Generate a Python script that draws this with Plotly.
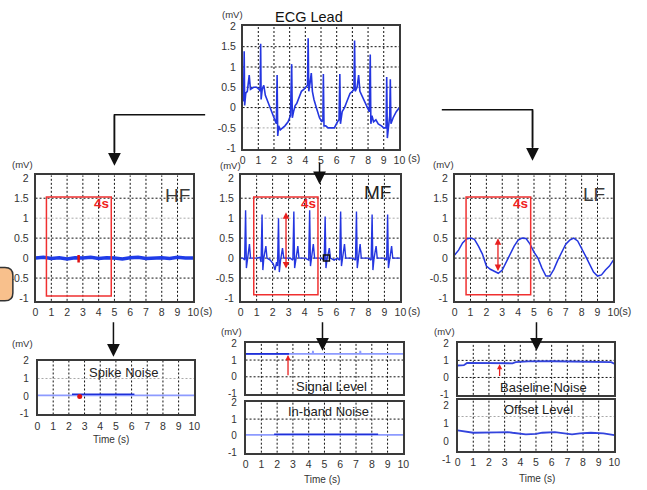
import plotly.graph_objects as go

W, H = 647, 490
FONT = "Arial, Liberation Sans, Helvetica, sans-serif"

# ---------------- data ----------------
# ECG lead (top panel)
ecg_t = [0.00,0.06,0.10,0.13,0.20,0.30,0.42,0.50,0.70,0.90,
         1.05,1.12,1.15,1.18,1.25,1.35,1.45,1.55,1.70,1.90,
         2.05,2.15,2.20,2.24,2.30,2.40,2.55,2.70,2.90,3.05,
         3.13,3.17,3.25,3.35,3.45,3.60,3.75,3.90,4.05,4.14,
         4.18,4.22,4.30,4.38,4.45,4.55,4.70,4.90,5.05,5.12,
         5.15,5.19,5.30,5.45,5.65,5.85,6.05,6.15,6.20,6.24,
         6.35,6.50,6.65,6.85,7.00,7.10,7.14,7.18,7.30,7.40,
         7.48,7.60,7.75,7.95,8.08,8.14,8.18,8.25,8.35,8.50,
         8.65,8.85,9.00,9.15,9.19,9.23,9.30,9.38,9.42,9.46,
         9.60,9.80,10.00]
ecg_v = [0.15,0.20,1.39,0.05,0.35,0.40,0.80,0.45,0.50,0.50,
         0.45,0.40,1.57,0.20,0.45,0.55,0.30,0.20,0.05,-0.15,
         -0.30,-0.40,0.80,-0.70,-0.45,-0.55,-0.50,-0.45,-0.35,-0.20,
         1.07,-0.25,-0.10,0.05,0.10,0.25,0.40,0.45,0.50,0.55,
         1.71,0.40,0.60,0.85,0.40,0.20,0.00,-0.25,-0.35,-0.30,
         0.83,-0.45,-0.45,-0.50,-0.50,-0.50,-0.35,-0.30,0.83,-0.40,
         -0.10,0.00,0.15,0.35,0.40,0.45,1.65,0.40,0.50,0.80,
         0.40,0.30,0.15,0.00,-0.10,1.31,-0.40,-0.20,-0.35,-0.30,
         -0.40,-0.45,-0.50,-0.50,0.75,-0.75,-0.45,-0.20,0.70,-0.40,
         -0.25,-0.10,0.00]

# HF component
hf_t = [0.0,0.5,1.0,1.5,2.0,2.5,3.0,3.5,4.0,4.5,5.0,5.5,6.0,6.5,7.0,7.5,8.0,8.5,9.0,9.5,10.0]
hf_v = [0.00,0.02,-0.01,0.01,-0.02,0.01,0.00,0.02,-0.01,0.01,0.00,-0.02,0.01,0.02,-0.01,0.00,0.01,-0.01,0.02,0.00,0.00]
hf_mark_t = [2.73, 2.73]
hf_mark_v = [-0.11, 0.08]

# MF component
mf_t = [0.00,0.15,0.25,0.31,0.36,0.42,0.55,0.62,0.80,1.00,
        1.20,1.28,1.34,1.39,1.45,1.58,1.65,1.85,2.05,2.15,
        2.25,2.31,2.37,2.42,2.50,2.62,2.70,2.90,3.10,3.27,
        3.33,3.38,3.45,3.58,3.65,3.85,4.05,4.26,4.32,4.37,
        4.45,4.55,4.63,4.85,5.05,5.23,5.29,5.34,5.40,5.55,
        5.62,5.85,6.05,6.20,6.26,6.31,6.38,6.50,6.58,6.80,
        7.00,7.19,7.25,7.30,7.37,7.48,7.55,7.75,8.00,8.17,
        8.23,8.28,8.35,8.48,8.55,8.75,9.00,9.14,9.20,9.25,
        9.32,9.45,9.52,9.75,10.00]
mf_v = [0.00,0.00,-0.05,1.20,-0.25,0.00,0.35,0.00,0.00,0.00,
        0.02,-0.10,1.09,-0.30,0.00,0.30,0.00,-0.05,-0.15,-0.30,
        -0.10,-0.20,1.00,-0.35,-0.05,0.25,0.00,0.00,0.00,-0.05,
        1.17,-0.25,0.00,0.30,0.00,0.00,0.00,-0.05,1.20,-0.20,
        0.00,0.35,0.00,0.00,0.00,-0.05,1.04,-0.25,-0.05,0.25,
        0.00,-0.05,0.00,-0.05,1.17,-0.20,0.00,0.35,0.00,0.00,
        0.00,-0.05,1.17,-0.25,0.00,0.35,0.00,0.00,0.00,-0.05,
        1.09,-0.30,0.00,0.30,0.00,0.00,0.00,-0.05,1.09,-0.25,
        0.00,0.30,0.00,0.00,0.00]
mf_mark_t = [5.37]
mf_mark_v = [0.0]

# LF component
lf_t = [0.00,0.25,0.50,0.75,1.00,1.25,1.50,1.75,2.00,2.25,2.50,2.75,3.00,3.25,3.50,3.75,4.00,4.25,4.50,4.75,
        5.00,5.25,5.50,5.75,6.00,6.25,6.50,6.75,7.00,7.25,7.50,7.75,8.00,8.25,8.50,8.75,9.00,9.25,9.50,9.75,10.00]
lf_v = [0.08,0.20,0.38,0.48,0.50,0.47,0.30,0.10,-0.20,-0.28,-0.33,-0.38,-0.30,-0.10,0.10,0.30,0.45,0.50,0.49,0.35,
        0.15,0.00,-0.25,-0.45,-0.45,-0.28,-0.05,0.15,0.35,0.45,0.50,0.43,0.25,0.05,-0.15,-0.35,-0.45,-0.42,-0.30,-0.20,-0.05]

# Spike noise
spike_base_t = [0.0, 10.0]
spike_base_v = [0.04, 0.04]
spike_seg_t = [2.2, 6.18]
spike_seg_v = [0.10, 0.10]
spike_evt_t = [2.69]
spike_evt_v = [-0.03]

# Signal level
signal_t = [0.0, 4.25, 4.27, 4.29, 7.25, 7.27, 7.29, 10.0]
signal_v = [1.37, 1.37, 1.55, 1.37, 1.37, 1.55, 1.37, 1.37]
signal_seg_t = [0.0, 2.75]
signal_seg_v = [1.37, 1.37]

# In-band noise
inband_t = [0.0, 10.0]
inband_v = [0.05, 0.05]
inband_seg_t = [1.81, 8.40]
inband_seg_v = [0.08, 0.08]

# Baseline noise
base_t = [0.0, 0.4, 0.6, 3.0, 3.5, 3.7, 4.5, 6.0, 7.5, 9.5, 9.8, 10.0]
base_v = [0.70, 0.72, 0.85, 0.85, 0.83, 0.90, 0.94, 0.95, 0.93, 0.94, 0.90, 0.80]

# Offset level
off_t = [0.0, 0.3, 1.0, 2.5, 3.2, 3.5, 4.35, 5.0, 5.4, 6.2, 6.8, 7.3, 7.8, 8.5, 9.3, 9.8, 10.0]
off_v = [0.61, 0.58, 0.48, 0.50, 0.52, 0.48, 0.39, 0.42, 0.48, 0.52, 0.45, 0.39, 0.44, 0.48, 0.44, 0.37, 0.35]

x_ticks = [0, 1, 2, 3, 4, 5, 6, 7, 8, 9, 10]
main_yticks = [-1, -0.5, 0, 0.5, 1, 1.5, 2]
main_ytext = ['-1', '-0.5', '0', '0.5', '1', '1.5', '2']
small_yticks = [-1, 0, 1, 2]
small_ytext = ['-1', '0', '1', '2']

# ---------------- layout helpers ----------------
def px(x):
    return x / W

def py(y):
    return 1 - y / H

# key, box (left, right, top, bottom) px, y-range, yticks, ytext, x labels, black y-grid, gray y-grid
panels = [
    ("ecg", (243, 402, 21, 147), [-1.02, 2.02], main_yticks, main_ytext, True, [0, 0.5, 1, 1.5], [-0.5]),
    ("hf", (33, 193, 174, 302), [-1.07, 2.07], main_yticks, main_ytext, True, [-0.5, 0, 0.5, 1.5], [1]),
    ("mf", (241, 403, 174, 302), [-1.07, 2.07], main_yticks, main_ytext, True, [-0.5, 0, 0.5, 1.5], [1]),
    ("lf", (458, 619, 174, 302), [-1.07, 2.07], main_yticks, main_ytext, True, [-0.5, 0, 0.5, 1.5], [1]),
    ("spike", (35, 194, 363, 418), [-1.05, 2.02], small_yticks, small_ytext, True, [], [1]),
    ("signal", (246, 406, 345, 397), [-1.02, 2.02], small_yticks, small_ytext, False, [0, 1], []),
    ("inband", (246, 406, 405, 457), [-1.03, 2.05], small_yticks, small_ytext, True, [1], []),
    ("baseline", (461, 620, 345, 398), [-1.02, 2.02], small_yticks, small_ytext, False, [0, 1], []),
    ("offset", (461, 620, 403, 455), [-0.54, 2.35], [0, 1, 2], ['0', '1', '2'], True, [], [1.4]),
]

fig = go.Figure()
layout = {}
shapes = []
annotations = []
AX = {}
for i, (key, (l, r, t, b), yr, yt, ytt, xl, yg_black, yg_gray) in enumerate(panels, start=1):
    xa = 'x' if i == 1 else f'x{i}'
    ya = 'y' if i == 1 else f'y{i}'
    AX[key] = (xa, ya)
    small = len(yt) < 6
    layout['xaxis' if i == 1 else f'xaxis{i}'] = dict(
        domain=[px(l), px(r)], anchor=ya, range=[0, 10], tickvals=x_ticks,
        showticklabels=xl, showgrid=False, zeroline=False,
        showline=True, mirror=True, linecolor='#3a3a3a', linewidth=1.5,
        ticks='outside', ticklen=1, tickcolor='rgba(0,0,0,0)',
        tickfont=dict(family=FONT, size=10.5, color='#333'), fixedrange=True)
    layout['yaxis' if i == 1 else f'yaxis{i}'] = dict(
        domain=[py(b), py(t)], anchor=xa, range=yr, tickvals=yt, ticktext=ytt,
        showgrid=False, zeroline=False,
        showline=True, mirror=True, linecolor='#3a3a3a', linewidth=1.5,
        ticks='outside', ticklen=3 if not small else 5, tickcolor='rgba(0,0,0,0)',
        tickfont=dict(family=FONT, size=10.5 if not small else 10, color='#333'), fixedrange=True)
    for xv in range(1, 10):
        shapes.append(dict(type='line', xref=xa, yref=f'{ya} domain', x0=xv, x1=xv, y0=0, y1=1,
                           line=dict(color='#111', width=1, dash='2px,2px'), layer='below'))
    for yv in yg_black:
        shapes.append(dict(type='line', xref=f'{xa} domain', yref=ya, x0=0, x1=1, y0=yv, y1=yv,
                           line=dict(color='#111', width=1, dash='2px,2px'), layer='below'))
    for yv in yg_gray:
        shapes.append(dict(type='line', xref=f'{xa} domain', yref=ya, x0=0, x1=1, y0=yv, y1=yv,
                           line=dict(color='#a8a8a8', width=1, dash='2px,2px'), layer='below'))

BLUE = '#2436e0'
LIGHT = '#8d9bff'

def add(key, x, y, color=BLUE, width=1.5, mode='lines', marker=None):
    xa, ya = AX[key]
    fig.add_trace(go.Scatter(x=x, y=y, xaxis=xa, yaxis=ya, mode=mode,
                             line=dict(color=color, width=width),
                             marker=marker, hoverinfo='skip', showlegend=False))

add('ecg', ecg_t, ecg_v, BLUE, 1.6)
add('hf', hf_t, hf_v, '#1f3ce8', 3.5)
add('hf', hf_mark_t, hf_mark_v, '#e01010', 2.5)
add('mf', mf_t, mf_v, BLUE, 1.4)
add('mf', mf_mark_t, mf_mark_v, mode='markers',
    marker=dict(symbol='square-open', size=6, color='#111', line=dict(width=1.5)))
add('lf', lf_t, lf_v, BLUE, 1.5)
add('spike', spike_base_t, spike_base_v, LIGHT, 1.8)
add('spike', spike_seg_t, spike_seg_v, '#1f30d8', 1.6)
add('spike', spike_evt_t, spike_evt_v, mode='markers', marker=dict(color='#e01010', size=5))
add('signal', signal_t, signal_v, LIGHT, 1.8)
add('signal', signal_seg_t, signal_seg_v, '#1f30d8', 1.6)
add('inband', inband_t, inband_v, LIGHT, 1.8)
add('inband', inband_seg_t, inband_seg_v, '#1f30d8', 1.6)
add('baseline', base_t, base_v, '#3344dd', 1.8)
add('offset', off_t, off_v, '#3344dd', 1.8)

# red 4 s windows
for key, x0, x1, y0, y1 in [('hf', 0.69, 4.8, -0.95, 1.53), ('mf', 0.82, 4.84, -0.92, 1.53),
                            ('lf', 0.72, 4.79, -0.92, 1.53)]:
    xa, ya = AX[key]
    shapes.append(dict(type='rect', xref=xa, yref=ya, x0=x0, x1=x1, y0=y0, y1=y1,
                       line=dict(color='#f03030', width=1.5), layer='above'))

# red arrows
for key, x, ytop, ybot in [('mf', 2.84, 1.15, -0.30), ('lf', 2.73, 0.50, -0.36)]:
    xa, ya = AX[key]
    annotations.append(dict(x=x, y=ytop, ax=x, ay=ybot, xref=xa, yref=ya, axref=xa, ayref=ya,
                            text='', showarrow=True, arrowhead=2, startarrowhead=2, arrowside='end+start',
                            arrowsize=1, arrowwidth=1.3, arrowcolor='#e82020'))
for key, x, ytop, ybot in [('signal', 2.69, 1.30, 0.0), ('baseline', 2.68, 0.78, 0.0)]:
    xa, ya = AX[key]
    annotations.append(dict(x=x, y=ytop, ax=x, ay=ybot, xref=xa, yref=ya, axref=xa, ayref=ya,
                            text='', showarrow=True, arrowhead=2, arrowsize=0.8, arrowwidth=1.3,
                            arrowcolor='#e82020'))

# black connector arrows
def path(points):
    return 'M ' + ' L '.join(f'{px(a):.5f},{py(b):.5f}' for a, b in points)

shapes.append(dict(type='path', xref='paper', yref='paper', path=path([(205, 112), (113, 112), (113, 150)]),
                   line=dict(color='#111', width=1.5)))
shapes.append(dict(type='path', xref='paper', yref='paper', path=path([(445, 107), (537, 107), (537, 145)]),
                   line=dict(color='#111', width=1.5)))

def down_arrow(x, y_from, y_to):
    annotations.append(dict(x=px(x), y=py(y_to), xref='paper', yref='paper', ax=0, ay=-(y_to - y_from),
                            text='', showarrow=True, arrowhead=2, arrowsize=1.7, arrowwidth=1.5,
                            arrowcolor='#111'))

down_arrow(113, 112, 164)
down_arrow(537, 107, 159)
down_arrow(321, 160, 183)
down_arrow(112, 323, 359)
down_arrow(324, 323, 353)
down_arrow(541, 323, 353)

# orange rounded box at the left edge
def rounded(x0, x1, y0, y1, rad):
    return (f'M {px(x0):.5f},{py(y0):.5f} L {px(x1 - rad):.5f},{py(y0):.5f} '
            f'Q {px(x1):.5f},{py(y0):.5f} {px(x1):.5f},{py(y0 + rad):.5f} '
            f'L {px(x1):.5f},{py(y1 - rad):.5f} '
            f'Q {px(x1):.5f},{py(y1):.5f} {px(x1 - rad):.5f},{py(y1):.5f} '
            f'L {px(x0):.5f},{py(y1):.5f} Z')

shapes.append(dict(type='path', xref='paper', yref='paper', path=rounded(-12, 10, 268, 302, 8),
                   fillcolor='#f8c08c', line=dict(color='#333', width=1.5), layer='above'))

def text(x, y, s, size=10.5, color='#333', bold=False):
    if bold:
        s = f'<b>{s}</b>'
    annotations.append(dict(x=px(x), y=py(y), xref='paper', yref='paper', text=s, showarrow=False,
                            xanchor='center', yanchor='middle', font=dict(family=FONT, size=size, color=color)))

text(310, 12, 'ECG Lead', 14.5, '#111')
for x, y in [(233, 10), (20, 163), (231, 164), (447, 163), (20, 346), (232, 333), (448, 333)]:
    text(x, y, '(mV)', 9.5)
for x, y in [(417, 156), (206, 312), (417, 312), (631, 312)]:
    text(x, y, '(s)', 10.5)
for x, y in [(110, 444), (323, 484), (542, 483)]:
    text(x, y, 'Time (s)', 10)
text(450, 464, '-1', 10)

text(177, 194, 'HF', 19, '#3a3a3a')
text(380, 191, 'MF', 19, '#222')
text(599, 193, 'LF', 19, '#3a3a3a')
for x in [100, 310, 525]:
    text(x, 203, '4s', 13.5, '#f02020', bold=True)

text(122, 375, 'Spike Noise', 13, '#222')
text(333, 389, 'Signal Level', 13, '#222')
text(330, 415, 'In-band Noise', 13, '#222')
text(548, 390, 'Baseline Noise', 13, '#222')
text(543, 413, 'Offset Level', 13, '#222')

layout.update(dict(width=W, height=H, margin=dict(l=0, r=0, t=0, b=0),
                   paper_bgcolor='white', plot_bgcolor='rgba(0,0,0,0)',
                   shapes=shapes, annotations=annotations, showlegend=False))
fig.update_layout(**layout)
fig.write_html("out.html")
